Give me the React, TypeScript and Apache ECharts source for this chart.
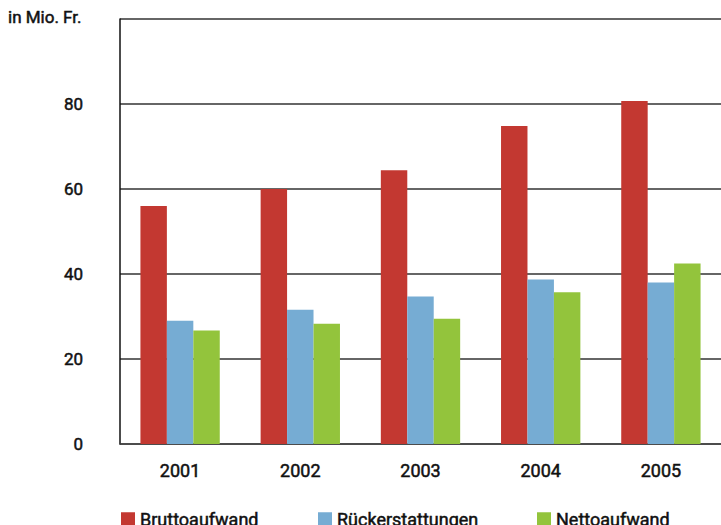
import React, { useEffect, useRef } from "react";
import * as echarts from "echarts";

const categories = ["2001", "2002", "2003", "2004", "2005"];
const bruttoaufwand = [56, 60, 64.4, 74.8, 80.7];
const rueckerstattungen = [29, 31.6, 34.7, 38.7, 38];
const nettoaufwand = [26.7, 28.3, 29.5, 35.7, 42.5];
const seriesNames = ["Bruttoaufwand", "Rückerstattungen", "Nettoaufwand"];
const colors = ["#c33831", "#76acd3", "#93c43c"];
const legendLefts = [121, 318, 537];

const FONT = "Roboto";
const TXT = {
  fontFamily: FONT,
  fontWeight: "normal",
  color: "#111",
  textBorderColor: "#111",
  textBorderWidth: 0.5,
};

export default function App() {
  const ref = useRef<HTMLDivElement>(null);
  useEffect(() => {
    if (!ref.current) return;
    const chart = echarts.init(ref.current, null, { renderer: "svg" });
    const data = [bruttoaufwand, rueckerstattungen, nettoaufwand];
    chart.setOption({
      animation: false,
      textStyle: { fontFamily: FONT },
      title: {
        text: "in Mio. Fr.",
        left: 8,
        top: 8,
        padding: 0,
        textStyle: { ...TXT, fontSize: 17 },
      },
      legend: seriesNames.map((n, i) => ({
        data: [n],
        left: legendLefts[i],
        top: 510,
        padding: 0,
        itemWidth: 14,
        itemHeight: 14,
        itemGap: 8,
        icon: "rect",
        textStyle: { ...TXT, fontSize: 18 },
      })),
      grid: { left: 120, top: 19, width: 605, height: 425, containLabel: false },
      xAxis: {
        type: "category",
        data: categories,
        axisLine: { lineStyle: { color: "#444", width: 1.5 } },
        axisTick: { show: false },
        axisLabel: { ...TXT, fontSize: 18, margin: 17 },
      },
      yAxis: {
        type: "value",
        min: 0,
        max: 100,
        interval: 20,
        axisLine: { show: true, lineStyle: { color: "#111", width: 1.5 } },
        axisTick: { show: false },
        splitLine: { lineStyle: { color: "#333", width: 1.5 } },
        axisLabel: {
          ...TXT,
          fontSize: 17,
          margin: 37,
          formatter: (v: number) => (v === 100 ? "" : String(v)),
        },
      },
      series: seriesNames.map((n, i) => ({
        name: n,
        type: "bar",
        data: data[i],
        barGap: "0%",
        barCategoryGap: "34%",
        itemStyle: { color: colors[i] },
      })),
    });
    return () => chart.dispose();
  }, []);
  return (
    <div
      ref={ref}
      style={{ position: "absolute", left: 0, top: 0, width: 721, height: 525, background: "#fff" }}
    />
  );
}
